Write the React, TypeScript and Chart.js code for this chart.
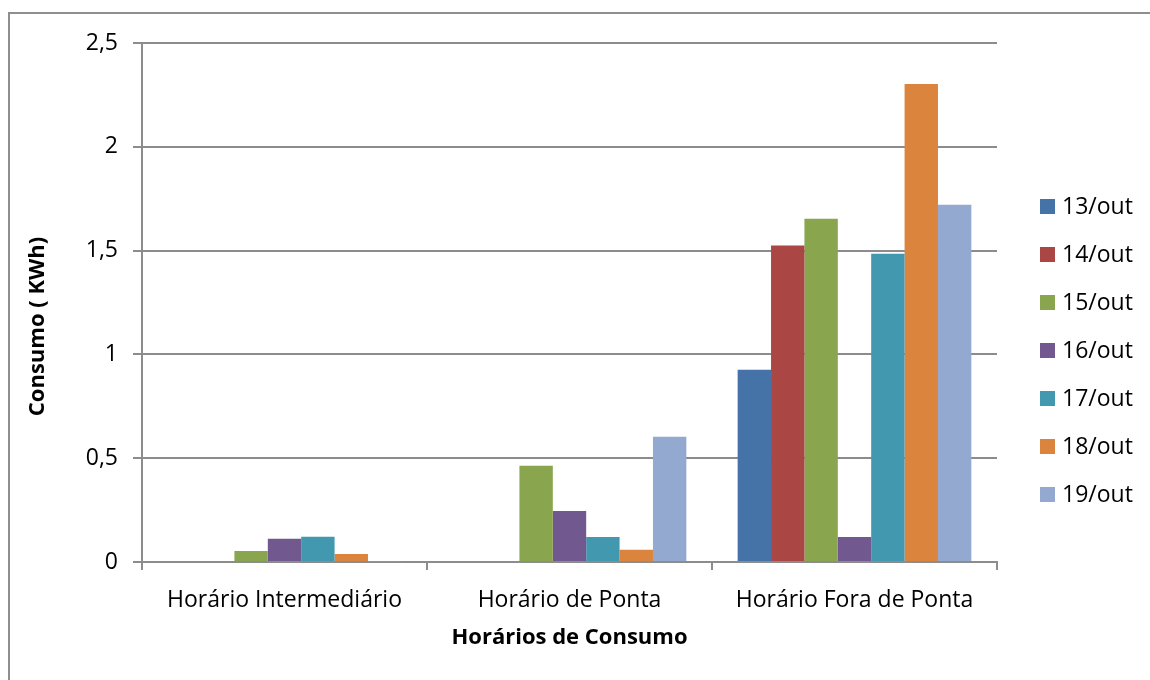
import React, { useEffect, useRef } from "react";
import { Chart, registerables } from "chart.js";

Chart.register(...registerables);

const categories = ["Horário Intermediário", "Horário de Ponta", "Horário Fora de Ponta"];
const seriesLabels = ["13/out", "14/out", "15/out", "16/out", "17/out", "18/out", "19/out"];
const seriesColors = ["#4572A7", "#AA4643", "#89A54E", "#71588F", "#4198AF", "#DB843D", "#93A9CF"];
const s13 = [0, 0, 0.926];
const s14 = [0, 0, 1.524];
const s15 = [0.053, 0.464, 1.654];
const s16 = [0.112, 0.246, 0.12];
const s17 = [0.122, 0.12, 1.485];
const s18 = [0.039, 0.059, 2.303];
const s19 = [0.004, 0.603, 1.721];
const seriesValues = [s13, s14, s15, s16, s17, s18, s19];
const yTickValues = [0, 0.5, 1, 1.5, 2, 2.5];
const yTickLabels = ["0", "0,5", "1", "1,5", "2", "2,5"];
const xTitle = "Horários de Consumo";
const yTitle = "Consumo ( KWh)";

const FONT = "'Open Sans', 'DejaVu Sans', sans-serif";

const sideLegend = {
  id: "sideLegend",
  afterDraw(chart: any) {
    const { ctx, chartArea } = chart;
    ctx.save();
    ctx.font = `23px ${FONT}`;
    ctx.textBaseline = "middle";
    ctx.textAlign = "left";
    chart.data.datasets.forEach((ds: any, i: number) => {
      const cy = chartArea.top + 163 + i * 48;
      const x = chartArea.right + 43;
      ctx.fillStyle = ds.backgroundColor;
      ctx.fillRect(x, cy - 7, 15, 15);
      ctx.fillStyle = "#000";
      ctx.fillText(ds.label, x + 22, cy + 1);
    });
    ctx.restore();
  },
};

const yTitlePlugin = {
  id: "yTitlePlugin",
  afterDraw(chart: any) {
    const { ctx, chartArea } = chart;
    ctx.save();
    ctx.font = `bold 22px ${FONT}`;
    ctx.fillStyle = "#000";
    ctx.textAlign = "center";
    ctx.textBaseline = "middle";
    ctx.translate(38, (chartArea.top + chartArea.bottom) / 2 + 24);
    ctx.rotate(-Math.PI / 2);
    ctx.fillText(yTitle, 0, 0);
    ctx.restore();
  },
};

export default function App() {
  const ref = useRef<HTMLCanvasElement | null>(null);
  useEffect(() => {
    if (!ref.current) return;
    const chart = new Chart(ref.current, {
      type: "bar",
      data: {
        labels: categories,
        datasets: seriesLabels.map((label, i) => ({
          label,
          data: seriesValues[i],
          backgroundColor: seriesColors[i],
          borderWidth: 0,
          categoryPercentage: 0.82,
          barPercentage: 1.0,
        })),
      },
      plugins: [sideLegend, yTitlePlugin],
      options: {
        animation: false,
        responsive: false,
        maintainAspectRatio: false,
        layout: { padding: { top: 43, right: 153, bottom: 0, left: 0 } },
        plugins: {
          legend: { display: false },
          tooltip: { enabled: false },
        },
        scales: {
          x: {
            grid: {
              offset: true,
              drawOnChartArea: false,
              drawTicks: true,
              tickLength: 8,
              color: "#8c8c8c",
              lineWidth: 2,
            },
            border: { color: "#8c8c8c", width: 2 },
            ticks: {
              color: "#000",
              font: { family: FONT, size: 23 },
              padding: 17,
              maxRotation: 0,
              autoSkip: false,
            },
            title: {
              display: true,
              text: xTitle,
              color: "#000",
              font: { family: FONT, size: 22, weight: "bold" },
              padding: { top: 0, bottom: 29 },
            },
            afterFit(scale: any) {
              scale.height = 118;
            },
          },
          y: {
            min: 0,
            max: 2.5,
            afterBuildTicks(scale: any) {
              scale.ticks = yTickValues.map((v) => ({ value: v }));
            },
            grid: {
              color: "#8c8c8c",
              lineWidth: 2,
              tickLength: 9,
              drawTicks: true,
            },
            border: { color: "#8c8c8c", width: 2 },
            ticks: {
              color: "#000",
              font: { family: FONT, size: 23 },
              padding: 15,
              callback: (v: any) => {
                const idx = yTickValues.indexOf(Number(v));
                return idx >= 0 ? yTickLabels[idx] : "";
              },
            },
            title: { display: false },
            afterFit(scale: any) {
              scale.width = 142;
            },
          },
        },
      },
    });
    return () => chart.destroy();
  }, []);

  return (
    <div
      style={{
        position: "fixed",
        left: 0,
        top: 0,
        width: 1150,
        height: 680,
        overflow: "hidden",
        background: "#fff",
      }}
    >
      <div
        style={{
          position: "absolute",
          left: 8,
          top: 12,
          width: 1300,
          height: 900,
          border: "2px solid #8f8f8f",
          boxSizing: "border-box",
        }}
      />
      <canvas
        ref={ref}
        width={1150}
        height={680}
        style={{ position: "absolute", left: 0, top: 0, width: 1150, height: 680 }}
      />
    </div>
  );
}
